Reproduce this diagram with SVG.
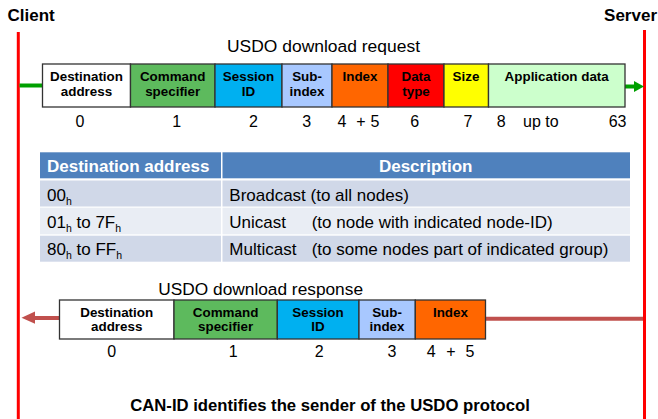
<svg xmlns="http://www.w3.org/2000/svg" width="658" height="419" viewBox="0 0 658 419">
<style>
text{font-family:"Liberation Sans",Arial,sans-serif;fill:#000}
.b{font-weight:bold}
.lbl{font-weight:bold;font-size:13.4px;text-anchor:middle}
.num{font-size:16px}
.ttl{font-size:17.4px}
.cell{stroke:#333;stroke-width:1.3}
.hd{font-weight:bold;font-size:17px;fill:#fff}
.row{font-size:17px}
.sub{font-size:10.5px}
</style>
<rect width="658" height="419" fill="#fff"/>
<g id="client">
<text class="b" x="7.5" y="20.7" font-size="17px">Client</text>
<line x1="18.3" y1="32" x2="18.3" y2="419" stroke="#f00" stroke-width="3"/>
</g>
<g id="server">
<text class="b" x="657" y="20.7" font-size="17px" text-anchor="end">Server</text>
<line x1="644.5" y1="30" x2="644.5" y2="419" stroke="#f00" stroke-width="3"/>
</g>
<g id="connectors">
<line x1="19.5" y1="85.5" x2="42.5" y2="85.5" stroke="#00A000" stroke-width="4"/>
<line x1="625" y1="86.5" x2="635" y2="86.5" stroke="#00A000" stroke-width="4"/>
<polygon points="644,86.5 634,81 634,92" fill="#00A000"/>
<line x1="485.5" y1="318.7" x2="643" y2="318.7" stroke="#C0504D" stroke-width="4"/>
<line x1="34" y1="318" x2="59.5" y2="318" stroke="#C0504D" stroke-width="4"/>
<polygon points="21.5,317.7 35,311.5 35,323.8" fill="#C0504D"/>
</g>
<g id="request">
<text class="ttl" x="227" y="52.3" textLength="193" lengthAdjust="spacingAndGlyphs">USDO download request</text>
<rect class="cell" x="42.5" y="64" width="88" height="43" fill="#fff"/>
<rect class="cell" x="130.5" y="64" width="84.5" height="43" fill="#5DBA5D"/>
<rect class="cell" x="215" y="64" width="67" height="43" fill="#00B0F0"/>
<rect class="cell" x="282" y="64" width="50" height="43" fill="#A8C8FF"/>
<rect class="cell" x="332" y="64" width="56" height="43" fill="#FF6600"/>
<rect class="cell" x="388" y="64" width="56" height="43" fill="#FF0000"/>
<rect class="cell" x="444" y="64" width="44.5" height="43" fill="#FFFF00"/>
<rect class="cell" x="488.5" y="64" width="136.5" height="43" fill="#CCFFCC"/>
<text class="lbl" x="86.5" y="81">Destination</text>
<text class="lbl" x="86.5" y="95.5">address</text>
<text class="lbl" x="172.7" y="81">Command</text>
<text class="lbl" x="172.7" y="95.5">specifier</text>
<text class="lbl" x="248.5" y="81">Session</text>
<text class="lbl" x="248.5" y="95.5">ID</text>
<text class="lbl" x="307" y="81">Sub-</text>
<text class="lbl" x="307" y="95.5">index</text>
<text class="lbl" x="360" y="81">Index</text>
<text class="lbl" x="416" y="81">Data</text>
<text class="lbl" x="416" y="95.5">type</text>
<text class="lbl" x="466" y="81">Size</text>
<text class="lbl" x="556.7" y="81">Application data</text>
<text class="num" x="80" y="127" text-anchor="middle">0</text>
<text class="num" x="176.7" y="127" text-anchor="middle">1</text>
<text class="num" x="253.5" y="127" text-anchor="middle">2</text>
<text class="num" x="306.7" y="127" text-anchor="middle">3</text>
<text class="num" x="342" y="127" text-anchor="middle">4</text>
<text class="num" x="361" y="127" text-anchor="middle">+</text>
<text class="num" x="375" y="127" text-anchor="middle">5</text>
<text class="num" x="414.7" y="127" text-anchor="middle">6</text>
<text class="num" x="468" y="127" text-anchor="middle">7</text>
<text class="num" x="501.3" y="127" text-anchor="middle">8</text>
<text class="num" x="523" y="127">up to</text>
<text class="num" x="626.5" y="127" text-anchor="end">63</text>
</g>
<g id="table">
<rect x="40" y="152.3" width="181" height="26" fill="#4F81BD"/>
<rect x="222.5" y="152.3" width="407.5" height="26" fill="#4F81BD"/>
<rect x="40" y="180.5" width="181" height="26" fill="#D0D8E8"/>
<rect x="222.5" y="180.5" width="407.5" height="26" fill="#D0D8E8"/>
<rect x="40" y="207.7" width="181" height="26.6" fill="#E9EDF4"/>
<rect x="222.5" y="207.7" width="407.5" height="26.6" fill="#E9EDF4"/>
<rect x="40" y="235.7" width="181" height="26" fill="#D0D8E8"/>
<rect x="222.5" y="235.7" width="407.5" height="26" fill="#D0D8E8"/>
<text class="hd" x="47" y="171.5">Destination address</text>
<text class="hd" x="425.7" y="171.5" text-anchor="middle">Description</text>
<text class="row" x="47" y="200.5">00<tspan class="sub" dy="4">h</tspan></text>
<text class="row" x="47" y="227.7">01<tspan class="sub" dy="4">h</tspan><tspan dy="-4"> to 7F</tspan><tspan class="sub" dy="4">h</tspan></text>
<text class="row" x="47" y="255">80<tspan class="sub" dy="4">h</tspan><tspan dy="-4"> to FF</tspan><tspan class="sub" dy="4">h</tspan></text>
<text class="row" x="229.3" y="200.5">Broadcast (to all nodes)</text>
<text class="row" x="229.3" y="227.7">Unicast</text>
<text class="row" x="311.7" y="227.7">(to node with indicated node-ID)</text>
<text class="row" x="229.3" y="255">Multicast</text>
<text class="row" x="311.7" y="255">(to some nodes part of indicated group)</text>
</g>
<g id="response">
<text class="ttl" x="158.3" y="295" textLength="204.7" lengthAdjust="spacingAndGlyphs">USDO download response</text>
<rect class="cell" x="59.5" y="300" width="114.5" height="39" fill="#fff"/>
<rect class="cell" x="174" y="300" width="103.3" height="39" fill="#5DBA5D"/>
<rect class="cell" x="277.3" y="300" width="81.7" height="39" fill="#00B0F0"/>
<rect class="cell" x="359" y="300" width="56.3" height="39" fill="#A8C8FF"/>
<rect class="cell" x="415.3" y="300" width="70.2" height="39" fill="#FF6600"/>
<text class="lbl" x="116.7" y="316.7">Destination</text>
<text class="lbl" x="116.7" y="331.3">address</text>
<text class="lbl" x="225.6" y="316.7">Command</text>
<text class="lbl" x="225.6" y="331.3">specifier</text>
<text class="lbl" x="318" y="316.7">Session</text>
<text class="lbl" x="318" y="331.3">ID</text>
<text class="lbl" x="387" y="316.7">Sub-</text>
<text class="lbl" x="387" y="331.3">index</text>
<text class="lbl" x="450.4" y="316.7">Index</text>
<text class="num" x="111.7" y="357" text-anchor="middle">0</text>
<text class="num" x="233.3" y="357" text-anchor="middle">1</text>
<text class="num" x="319.3" y="357" text-anchor="middle">2</text>
<text class="num" x="392" y="357" text-anchor="middle">3</text>
<text class="num" x="431.2" y="357" text-anchor="middle">4</text>
<text class="num" x="450.8" y="357" text-anchor="middle">+</text>
<text class="num" x="470" y="357" text-anchor="middle">5</text>
</g>
<text class="b" x="330" y="410.7" font-size="16.7px" text-anchor="middle">CAN-ID identifies the sender of the USDO protocol</text>
</svg>
